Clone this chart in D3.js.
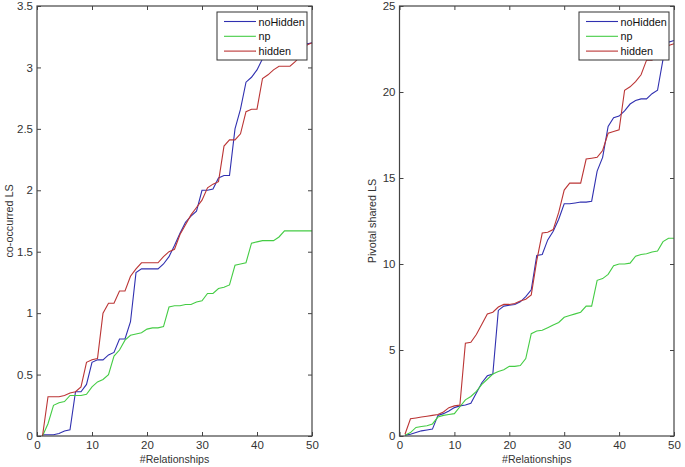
<!DOCTYPE html>
<html><head><meta charset="utf-8">
<script src="https://cdn.jsdelivr.net/npm/d3@7"></script>
<style>body{margin:0;background:#fff}svg{display:block}text{font-family:"Liberation Sans",Arial,sans-serif}</style>
</head><body>
<svg id="c" width="685" height="467"></svg>
<script>
const xs = d3.range(1, 51);
const seriesNames = ["noHidden", "np", "hidden"];
const colors = ["#3030b0", "#44cc44", "#bb3535"];

// Left chart: co-occurred LS
const leftNoHidden = [0.01,0.01,0.01,0.02,0.04,0.05,0.36,0.36,0.42,0.6,0.62,0.62,0.66,0.68,0.79,0.79,0.93,1.33,1.36,1.36,1.36,1.36,1.4,1.46,1.55,1.65,1.74,1.79,1.83,2.0,2.0,2.01,2.1,2.12,2.12,2.5,2.66,2.88,2.92,2.98,3.07,3.1,3.12,3.14,3.15,3.16,3.17,3.18,3.19,3.2];
const leftNp = [0.0,0.1,0.25,0.27,0.28,0.33,0.33,0.33,0.34,0.4,0.44,0.46,0.5,0.65,0.7,0.78,0.82,0.83,0.84,0.87,0.88,0.88,0.89,1.05,1.06,1.06,1.07,1.07,1.09,1.1,1.16,1.16,1.2,1.21,1.23,1.39,1.4,1.41,1.57,1.58,1.59,1.59,1.59,1.62,1.67,1.67,1.67,1.67,1.67,1.67];
const leftHidden = [0.0,0.32,0.32,0.32,0.33,0.35,0.36,0.4,0.6,0.62,0.63,1.0,1.08,1.08,1.18,1.18,1.3,1.36,1.41,1.41,1.41,1.41,1.46,1.5,1.52,1.64,1.72,1.8,1.86,1.92,2.02,2.05,2.07,2.36,2.41,2.41,2.46,2.64,2.66,2.66,2.91,2.94,2.98,3.01,3.01,3.01,3.05,3.1,3.18,3.2];

// Right chart: Pivotal shared LS
const rightNoHidden = [0.05,0.1,0.2,0.3,0.35,0.4,1.2,1.3,1.45,1.65,1.75,1.8,1.9,2.5,3.1,3.5,3.6,7.3,7.55,7.6,7.65,7.8,8.1,8.5,10.5,10.55,11.4,11.9,12.6,13.5,13.5,13.55,13.6,13.6,13.65,15.4,16.2,18.0,18.5,18.6,18.9,19.3,19.5,19.6,19.6,19.9,20.1,21.9,22.9,23.0];
const rightNp = [0.05,0.2,0.5,0.55,0.6,0.7,1.1,1.2,1.25,1.3,1.7,2.1,2.3,2.6,3.0,3.3,3.6,3.75,3.85,4.05,4.05,4.1,4.5,5.95,6.1,6.15,6.3,6.45,6.6,6.9,7.0,7.1,7.2,7.55,7.55,9.05,9.15,9.4,9.9,10.0,10.0,10.05,10.45,10.55,10.6,10.7,10.75,11.3,11.5,11.5];
const rightHidden = [0.1,1.0,1.05,1.1,1.15,1.2,1.25,1.4,1.65,1.75,1.8,5.4,5.45,5.9,6.5,7.1,7.2,7.5,7.65,7.65,7.7,7.85,7.95,8.2,10.2,11.8,11.85,12.0,13.0,14.3,14.7,14.7,14.7,16.1,16.15,16.2,16.6,17.6,17.7,17.8,20.1,20.3,20.6,21.0,21.85,21.85,22.2,22.5,22.7,22.8];

const xTicks = [0, 10, 20, 30, 40, 50];
const leftYTicks = [0, 0.5, 1, 1.5, 2, 2.5, 3, 3.5];
const rightYTicks = [0, 5, 10, 15, 20, 25];

const svg = d3.select("#c");

function panel(opts) {
  const {x0, x1, y0, y1, ymax, yTicks, yLabel, data} = opts;
  const x = d3.scaleLinear().domain([0, 50]).range([x0, x1]);
  const y = d3.scaleLinear().domain([0, ymax]).range([y1, y0]);
  const g = svg.append("g");
  const axisColor = "#444";
  const fmt = d3.format("~g");
  const tl = 4;
  g.append("g").attr("transform", `translate(0,${y1})`)
    .call(d3.axisBottom(x).tickValues(xTicks).tickSize(-tl).tickPadding(5).tickFormat(fmt))
    .call(s => { s.select(".domain").remove(); s.selectAll("line").attr("stroke", axisColor);
      s.selectAll("text").attr("fill", "#333").attr("font-size", 11.5).attr("font-family", "Liberation Sans, Arial, sans-serif"); });
  g.append("g").attr("transform", `translate(0,${y0})`)
    .call(d3.axisTop(x).tickValues(xTicks).tickSize(-tl).tickFormat(""))
    .call(s => { s.select(".domain").remove(); s.selectAll("line").attr("stroke", axisColor); });
  g.append("g").attr("transform", `translate(${x0},0)`)
    .call(d3.axisLeft(y).tickValues(yTicks).tickSize(-tl).tickPadding(4).tickFormat(fmt))
    .call(s => { s.select(".domain").remove(); s.selectAll("line").attr("stroke", axisColor);
      s.selectAll("text").attr("fill", "#333").attr("font-size", 11.5).attr("font-family", "Liberation Sans, Arial, sans-serif"); });
  g.append("g").attr("transform", `translate(${x1},0)`)
    .call(d3.axisRight(y).tickValues(yTicks).tickSize(-tl).tickFormat(""))
    .call(s => { s.select(".domain").remove(); s.selectAll("line").attr("stroke", axisColor); });

  const line = d3.line().x((d, i) => x(xs[i])).y(d => y(d));
  data.forEach((arr, k) => {
    g.append("path").datum(arr).attr("d", line).attr("fill", "none")
      .attr("stroke", colors[k]).attr("stroke-width", 1.1);
  });

  g.append("rect").attr("x", x0).attr("y", y0).attr("width", x1 - x0).attr("height", y1 - y0)
    .attr("fill", "none").attr("stroke", axisColor).attr("stroke-width", 1.2);

  // legend
  const lw = 90, lh = 48;
  const lx = x1 - 5 - lw, ly = y0 + 6;
  const lg = g.append("g");
  lg.append("rect").attr("x", lx).attr("y", ly).attr("width", lw).attr("height", lh)
    .attr("fill", "#fff").attr("stroke", "#333").attr("stroke-width", 1);
  seriesNames.forEach((n, k) => {
    const yy = ly + 9.5 + k * 14.8;
    lg.append("line").attr("x1", lx + 7).attr("x2", lx + 39).attr("y1", yy).attr("y2", yy)
      .attr("stroke", colors[k]).attr("stroke-width", 1.1);
    lg.append("text").attr("x", lx + 41.5).attr("y", yy + 4).attr("font-size", 10.8).attr("fill", "#111").text(n);
  });

  g.append("text").attr("x", (x0 + x1) / 2).attr("y", 463).attr("text-anchor", "middle")
    .attr("font-size", 10.6).attr("fill", "#333").text("#Relationships");
  g.append("text").attr("transform", `translate(${opts.ylx},${(y0 + y1) / 2}) rotate(-90)`)
    .attr("text-anchor", "middle").attr("font-size", 10.8).attr("fill", "#333").text(yLabel);
}

panel({x0: 37, x1: 312, y0: 6, y1: 436, ymax: 3.5, yTicks: leftYTicks, yLabel: "co-occurred LS", ylx: 13,
  data: [leftNoHidden, leftNp, leftHidden]});
panel({x0: 399.5, x1: 674, y0: 6, y1: 436, ymax: 25, yTicks: rightYTicks, yLabel: "Pivotal shared LS", ylx: 376,
  data: [rightNoHidden, rightNp, rightHidden]});
</script>
</body></html>
